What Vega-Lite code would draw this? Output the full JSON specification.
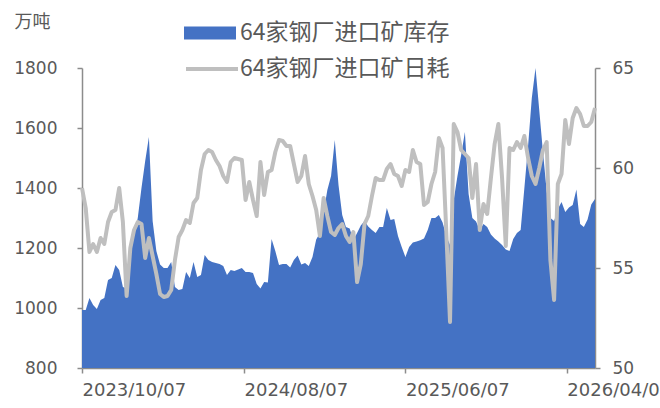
{
  "$schema": "https://vega.github.io/schema/vega-lite/v6.json",
  "width": 513,
  "height": 300,
  "autosize": {"type": "none"},
  "padding": {"left": 82, "top": 68, "right": 65, "bottom": 40},
  "background": "white",
  "config": {
    "view": {"stroke": null},
    "axis": {"grid": false, "domainColor": "#8c8c8c", "domainWidth": 1.5, "tickColor": "#8c8c8c", "tickWidth": 1.5, "tickSize": 5, "labelColor": "#595959", "labelFont": "DejaVu Sans", "labelFontSize": 17}
  },
  "data": {"values": [
    {"d":"2023-10-07","inv":993,"cons":59.0},{"d":"2023-10-14","inv":993,"cons":58.0},{"d":"2023-10-21","inv":1033,"cons":55.8},{"d":"2023-10-28","inv":1010,"cons":56.2},{"d":"2023-11-04","inv":997,"cons":55.8},{"d":"2023-11-11","inv":1027,"cons":56.5},{"d":"2023-11-18","inv":1033,"cons":56.2},{"d":"2023-11-25","inv":1093,"cons":57.3},{"d":"2023-12-02","inv":1100,"cons":57.8},{"d":"2023-12-09","inv":1143,"cons":57.9},{"d":"2023-12-16","inv":1127,"cons":59.0},{"d":"2023-12-23","inv":1070,"cons":57.3},{"d":"2023-12-30","inv":1065,"cons":53.6},
    {"d":"2024-01-06","inv":1193,"cons":56.0},{"d":"2024-01-13","inv":1240,"cons":56.9},{"d":"2024-01-20","inv":1300,"cons":57.3},{"d":"2024-01-27","inv":1400,"cons":57.2},{"d":"2024-02-03","inv":1490,"cons":55.5},{"d":"2024-02-10","inv":1570,"cons":56.5},{"d":"2024-02-17","inv":1290,"cons":55.6},{"d":"2024-02-24","inv":1190,"cons":54.7},{"d":"2024-03-02","inv":1145,"cons":53.7},{"d":"2024-03-09","inv":1133,"cons":53.55},{"d":"2024-03-16","inv":1133,"cons":53.6},{"d":"2024-03-23","inv":1153,"cons":53.9},{"d":"2024-03-30","inv":1070,"cons":55.4},
    {"d":"2024-04-06","inv":1060,"cons":56.55},{"d":"2024-04-13","inv":1063,"cons":56.9},{"d":"2024-04-20","inv":1120,"cons":57.4},{"d":"2024-04-27","inv":1100,"cons":57.25},{"d":"2024-05-04","inv":1153,"cons":58.25},{"d":"2024-05-11","inv":1103,"cons":58.5},{"d":"2024-05-18","inv":1110,"cons":59.9},{"d":"2024-05-25","inv":1177,"cons":60.7},{"d":"2024-06-01","inv":1160,"cons":60.9},{"d":"2024-06-08","inv":1153,"cons":60.8},{"d":"2024-06-15","inv":1150,"cons":60.4},{"d":"2024-06-22","inv":1147,"cons":60.1},{"d":"2024-06-29","inv":1140,"cons":59.6},
    {"d":"2024-07-06","inv":1110,"cons":59.3},{"d":"2024-07-13","inv":1127,"cons":60.3},{"d":"2024-07-20","inv":1123,"cons":60.5},{"d":"2024-07-27","inv":1128,"cons":60.45},{"d":"2024-08-03","inv":1133,"cons":60.4},{"d":"2024-08-10","inv":1120,"cons":58.4},{"d":"2024-08-17","inv":1120,"cons":59.3},{"d":"2024-08-24","inv":1117,"cons":58.4},{"d":"2024-08-31","inv":1080,"cons":57.6},{"d":"2024-09-07","inv":1065,"cons":60.3},{"d":"2024-09-14","inv":1087,"cons":58.65},{"d":"2024-09-21","inv":1085,"cons":59.8},{"d":"2024-09-28","inv":1230,"cons":59.9},
    {"d":"2024-10-05","inv":1190,"cons":60.8},{"d":"2024-10-12","inv":1143,"cons":61.4},{"d":"2024-10-19","inv":1147,"cons":61.35},{"d":"2024-10-26","inv":1147,"cons":61.1},{"d":"2024-11-02","inv":1135,"cons":61.1},{"d":"2024-11-09","inv":1160,"cons":60.2},{"d":"2024-11-16","inv":1175,"cons":59.3},{"d":"2024-11-23","inv":1145,"cons":59.6},{"d":"2024-11-30","inv":1150,"cons":60.6},{"d":"2024-12-07","inv":1140,"cons":59.2},{"d":"2024-12-14","inv":1170,"cons":58.6},{"d":"2024-12-21","inv":1228,"cons":57.9},{"d":"2024-12-28","inv":1250,"cons":56.6},
    {"d":"2025-01-04","inv":1320,"cons":58.5},{"d":"2025-01-11","inv":1393,"cons":57.6},{"d":"2025-01-18","inv":1440,"cons":56.8},{"d":"2025-01-25","inv":1560,"cons":56.65},{"d":"2025-02-01","inv":1410,"cons":57.0},{"d":"2025-02-08","inv":1310,"cons":57.2},{"d":"2025-02-15","inv":1270,"cons":56.6},{"d":"2025-02-22","inv":1265,"cons":56.3},{"d":"2025-03-01","inv":1227,"cons":56.8},{"d":"2025-03-08","inv":1250,"cons":54.3},{"d":"2025-03-15","inv":1275,"cons":55.2},{"d":"2025-03-22","inv":1290,"cons":57.2},{"d":"2025-03-29","inv":1272,"cons":57.6},
    {"d":"2025-04-05","inv":1260,"cons":58.6},{"d":"2025-04-12","inv":1250,"cons":59.5},{"d":"2025-04-19","inv":1270,"cons":59.4},{"d":"2025-04-26","inv":1270,"cons":59.4},{"d":"2025-05-03","inv":1333,"cons":59.95},{"d":"2025-05-10","inv":1293,"cons":60.2},{"d":"2025-05-17","inv":1297,"cons":59.7},{"d":"2025-05-24","inv":1240,"cons":59.6},{"d":"2025-05-31","inv":1203,"cons":59.1},{"d":"2025-06-07","inv":1170,"cons":59.9},{"d":"2025-06-14","inv":1203,"cons":59.8},{"d":"2025-06-21","inv":1218,"cons":60.9},{"d":"2025-06-28","inv":1222,"cons":60.3},
    {"d":"2025-07-05","inv":1226,"cons":60.2},{"d":"2025-07-12","inv":1232,"cons":58.15},{"d":"2025-07-19","inv":1260,"cons":58.3},{"d":"2025-07-26","inv":1300,"cons":59.2},{"d":"2025-08-02","inv":1300,"cons":59.8},{"d":"2025-08-09","inv":1310,"cons":61.5},{"d":"2025-08-16","inv":1285,"cons":61.0},{"d":"2025-08-23","inv":1240,"cons":56.8},{"d":"2025-08-30","inv":1210,"cons":52.3},{"d":"2025-09-06","inv":1360,"cons":62.2},{"d":"2025-09-13","inv":1440,"cons":61.8},{"d":"2025-09-20","inv":1510,"cons":60.9},{"d":"2025-09-27","inv":1587,"cons":60.7},
    {"d":"2025-10-04","inv":1380,"cons":60.5},{"d":"2025-10-11","inv":1300,"cons":58.5},{"d":"2025-10-18","inv":1288,"cons":60.2},{"d":"2025-10-25","inv":1260,"cons":56.9},{"d":"2025-11-01","inv":1280,"cons":58.2},{"d":"2025-11-08","inv":1270,"cons":57.7},{"d":"2025-11-15","inv":1245,"cons":59.5},{"d":"2025-11-22","inv":1232,"cons":61.2},{"d":"2025-11-29","inv":1222,"cons":62.2},{"d":"2025-12-06","inv":1210,"cons":59.5},{"d":"2025-12-13","inv":1195,"cons":56.1},{"d":"2025-12-20","inv":1190,"cons":61.0},{"d":"2025-12-27","inv":1230,"cons":60.9},
    {"d":"2026-01-03","inv":1250,"cons":61.3},{"d":"2026-01-10","inv":1260,"cons":61.0},{"d":"2026-01-17","inv":1400,"cons":61.6},{"d":"2026-01-24","inv":1540,"cons":60.5},{"d":"2026-01-31","inv":1700,"cons":59.6},{"d":"2026-02-07","inv":1800,"cons":59.2},{"d":"2026-02-14","inv":1660,"cons":60.0},{"d":"2026-02-21","inv":1520,"cons":60.9},{"d":"2026-02-28","inv":1390,"cons":61.3},{"d":"2026-03-07","inv":1300,"cons":55.4},{"d":"2026-03-14","inv":1290,"cons":53.4},{"d":"2026-03-21","inv":1330,"cons":59.2},{"d":"2026-03-28","inv":1353,"cons":59.7},
    {"d":"2026-04-04","inv":1320,"cons":62.4},{"d":"2026-04-11","inv":1335,"cons":61.2},{"d":"2026-04-18","inv":1343,"cons":62.5},{"d":"2026-04-25","inv":1395,"cons":63.0},{"d":"2026-05-02","inv":1280,"cons":62.7},{"d":"2026-05-09","inv":1270,"cons":62.1},{"d":"2026-05-16","inv":1295,"cons":62.1},{"d":"2026-05-23","inv":1345,"cons":62.3},{"d":"2026-05-30","inv":1363,"cons":63.0}
  ]},
  "encoding": {
    "x": {
      "field": "d", "type": "temporal",
      "scale": {"type": "utc", "nice": false},
      "axis": {
        "title": null,
        "values": [
          {"year": 2023, "month": 10, "date": 7, "utc": true},
          {"year": 2024, "month": 8, "date": 7, "utc": true},
          {"year": 2025, "month": 6, "date": 7, "utc": true},
          {"year": 2026, "month": 4, "date": 7, "utc": true}
        ],
        "format": "%Y/%m/%d",
        "labelAlign": "left",
        "labelFlush": false,
        "labelOverlap": false,
        "labelPadding": 8,
        "labelBound": false,
        "labelFontSize": 18
      }
    }
  },
  "layer": [
    {
      "mark": {"type": "area", "color": "#4472C4"},
      "encoding": {
        "y": {
          "field": "inv", "type": "quantitative",
          "scale": {"domain": [800, 1800], "zero": false, "nice": false},
          "axis": {
            "orient": "left",
            "values": [800, 1000, 1200, 1400, 1600, 1800],
            "format": "d",
            "labelPadding": 20,
            "title": "万吨",
            "titleAngle": 0,
            "titleAlign": "left",
            "titleBaseline": "top",
            "titleX": -68,
            "titleY": -55,
            "titleFont": "Noto Sans CJK SC",
            "titleFontSize": 18,
            "titleFontWeight": "normal",
            "titleColor": "#595959"
          }
        },
        "y2": {"datum": 800},
        "fill": {
          "datum": "64家钢厂进口矿库存",
          "type": "nominal",
          "scale": {"range": ["#4472C4"]},
          "legend": {
            "orient": "none",
            "legendX": 102,
            "legendY": -61,
            "title": null,
            "padding": 0,
            "symbolType": "M-1,-0.25H1V0.25H-1Z",
            "symbolSize": 2704,
            "symbolStrokeWidth": 0,
            "labelFont": "Noto Sans CJK SC",
            "labelFontSize": 23,
            "labelLimit": 0,
            "labelColor": "#595959",
            "labelOffset": 4
          }
        }
      }
    },
    {
      "mark": {"type": "line", "strokeWidth": 4, "strokeJoin": "round"},
      "encoding": {
        "y": {
          "field": "cons", "type": "quantitative",
          "scale": {"domain": [50, 65], "zero": false, "nice": false},
          "axis": {
            "orient": "right",
            "values": [50, 55, 60, 65],
            "labelPadding": 12,
            "title": null
          }
        },
        "stroke": {
          "datum": "64家钢厂进口矿日耗",
          "type": "nominal",
          "scale": {"range": ["#BFBFBF"]},
          "legend": {
            "orient": "none",
            "legendX": 102,
            "legendY": -27,
            "title": null,
            "padding": 0,
            "symbolType": "stroke",
            "symbolSize": 2704,
            "symbolStrokeWidth": 4,
            "labelFont": "Noto Sans CJK SC",
            "labelFontSize": 23,
            "labelLimit": 0,
            "labelColor": "#595959",
            "labelOffset": 0
          }
        }
      }
    }
  ],
  "resolve": {"scale": {"y": "independent"}}
}
